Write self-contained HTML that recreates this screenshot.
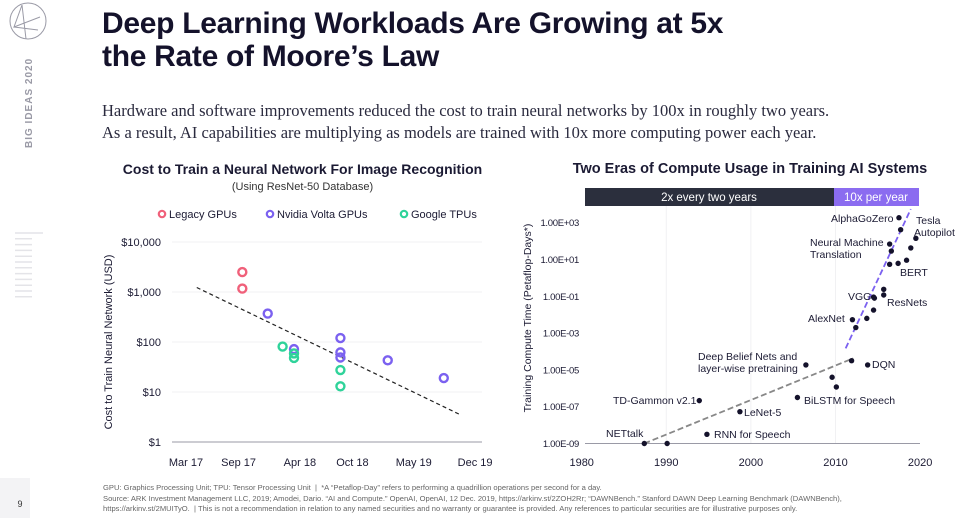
<!DOCTYPE html>
<html><head><meta charset="utf-8"><style>
body{margin:0;width:966px;height:518px;overflow:hidden;background:#fff;font-family:"Liberation Sans",sans-serif;position:relative;color:#1b1a33}
.abs{position:absolute}
svg text{font-family:"Liberation Sans",sans-serif}
</style></head><body>
<svg class="abs" style="left:0;top:0" width="60" height="518">
<g fill="none" stroke="#9a9aa6" stroke-width="1">
<circle cx="28" cy="21" r="18"/><path d="M22 5 L14 27 L40 17 M22 5 L26 39 M14 27 L38 30"/></g>
<text transform="translate(32,148) rotate(-90)" font-size="10" font-weight="bold" fill="#9a9aa6" letter-spacing="1">BIG IDEAS 2020</text>
<g id="side-lines" stroke="#e4e4e8" stroke-width="1.5"></g>
<rect x="0" y="478" width="30" height="40" fill="#f3f3f5"/>
<text x="20" y="507" font-size="9" fill="#333" text-anchor="middle">9</text>
</svg>
<div class="abs" style="left:102px;top:7px;font-size:30px;font-weight:bold;line-height:33px;color:#14122b;letter-spacing:-0.3px">Deep Learning Workloads Are Growing at 5x<br>the Rate of Moore’s Law</div>
<div class="abs" style="left:102px;top:100px;font-family:'Liberation Serif',serif;font-size:16.5px;line-height:22px;color:#2a2a3e">Hardware and software improvements reduced the cost to train neural networks by 100x in roughly two years.<br>As a result, AI capabilities are multiplying as models are trained with 10x more computing power each year.</div>
<div class="abs" style="left:100px;top:161px;width:405px;text-align:center;font-size:14px;font-weight:bold;color:#1b1a33;white-space:nowrap">Cost to Train a Neural Network For Image Recognition</div>
<div class="abs" style="left:110px;top:181px;width:385px;text-align:center;font-size:11px;color:#333">(Using ResNet-50 Database)</div>
<div class="abs" style="left:560px;top:161px;width:380px;text-align:center;font-size:14.5px;font-weight:bold;color:#1b1a33;white-space:nowrap">Two Eras of Compute Usage in Training AI Systems</div>
<div class="abs" style="left:103px;top:483px;font-size:7.6px;line-height:10.5px;color:#666">GPU: Graphics Processing Unit; TPU: Tensor Processing Unit &nbsp;| &nbsp;*A “Petaflop-Day” refers to performing a quadrillion operations per second for a day.<br>Source: ARK Investment Management LLC, 2019; Amodei, Dario. “AI and Compute.” OpenAI, OpenAI, 12 Dec. 2019, https://arkinv.st/2ZOH2Rr; “DAWNBench.” Stanford DAWN Deep Learning Benchmark (DAWNBench),<br>https://arkinv.st/2MUITyO. &nbsp;| This is not a recommendation in relation to any named securities and no warranty or guarantee is provided. Any references to particular securities are for illustrative purposes only.</div>
<svg id="left" class="abs" style="left:0;top:0" width="966" height="518"></svg>
<script>
// sidebar lines
const sl=document.getElementById('side-lines');
for(let i=0;i<12;i++){const l=document.createElementNS('http://www.w3.org/2000/svg','line');const y=i?233+i*5.8:233;l.setAttribute('x1',15);l.setAttribute('x2',i?32:43);l.setAttribute('y1',y);l.setAttribute('y2',y);sl.appendChild(l);}

// ---- Left chart data (months since Mar 2017, USD) ----
const xTickLabels=["Mar 17","Sep 17","Apr 18","Oct 18","May 19","Dec 19"];
const xTickMonths=[0,6,13,19,26,33];
const yTickLabels=["$1","$10","$100","$1,000","$10,000"];
const yTickValues=[1,10,100,1000,10000];
const legacyMonths=[6.2,6.2];
const legacyCost=[2500,1170];
const voltaMonths=[9.1,12.1,17.4,17.4,17.4,22.8,29.2];
const voltaCost=[370,72,120,62,49,43,19];
const tpuMonths=[10.8,12.1,12.1,17.4,17.4];
const tpuCost=[81,59,48,27.5,13];
const trendMonths=[1.0,31.1];
const trendCost=[1230,3.5];

// ---- Right chart data (year, petaflop-days) ----
const rYTickLabels=["1.00E-09","1.00E-07","1.00E-05","1.00E-03","1.00E-01","1.00E+01","1.00E+03"];
const rYTickExp=[-9,-7,-5,-3,-1,1,3];
const rXTicks=[1980,1990,2000,2010,2020];
const pointYears=[1987.4,1990.1,1994.8,1993.9,1998.7,2005.5,2009.6,2010.1,2006.5,2011.9,2013.8,2012.0,2012.4,2013.7,2014.5,2014.5,2014.6,2015.7,2015.7,2016.4,2016.6,2016.4,2017.4,2018.4,2017.7,2017.5,2018.9,2019.5];
const pointLogCompute=[-9,-9,-8.5,-6.67,-7.27,-6.5,-5.4,-5.93,-4.73,-4.5,-4.73,-2.27,-2.7,-2.2,-1.75,-1.04,-1.1,-0.62,-0.93,1.84,1.46,0.74,0.79,0.96,2.62,3.27,1.63,2.15];
const era1Years=[1987.4,2012.1];
const era1Log=[-9,-4.37];
const era2Years=[2011.2,2018.9];
const era2Log=[-3.83,3.74];
const pointLabels=[["NETtalk",606,437],["RNN for Speech",714,438],["TD-Gammon v2.1",613,404],["LeNet-5",744,416],["BiLSTM for Speech",804,404],["Deep Belief Nets and",698,360],["layer-wise pretraining",698,372],["DQN",872,368],["AlexNet",808,322],["VGG",848,300],["ResNets",887,306],["BERT",900,276],["Neural Machine",810,246],["Translation",810,258],["AlphaGoZero",831,222],["Tesla",916,224],["Autopilot",914,236]];

const NS='http://www.w3.org/2000/svg';
const svg=document.getElementById('left');
function mk(t,a,p){const e=document.createElementNS(NS,t);for(const k in a)e.setAttribute(k,a[k]);(p||svg).appendChild(e);return e;}
// left scales
const lx=m=>188+m*8.76;
const ly=v=>442-Math.log10(v)*50;
yTickValues.forEach((v,i)=>{
 const g=mk('line',{x1:172,x2:482,y1:ly(v),y2:ly(v),stroke:i?'#f1f1f3':'#9a9aa6','stroke-width':1});
 
 
 const t=mk('text',{x:161,y:ly(v)+4,'text-anchor':'end','font-size':11,fill:'#1b1a33'});t.textContent=yTickLabels[i];
 
 
});
xTickMonths.forEach((m,i)=>{const t=mk('text',{x:lx(m)-2,y:466,'text-anchor':'middle','font-size':11,fill:'#1b1a33'});t.textContent=xTickLabels[i];
 
 });
const ylab=mk('text',{transform:'translate(112,342) rotate(-90)','text-anchor':'middle','font-size':11,fill:'#1b1a33'});ylab.textContent='Cost to Train Neural Network (USD)';


const tl=mk('line',{x1:lx(trendMonths[0]),y1:ly(trendCost[0]),x2:lx(trendMonths[1]),y2:ly(trendCost[1]),stroke:'#222','stroke-width':1.2,'stroke-dasharray':'4,3'});


function ring(ms,cs,col,name){ms.forEach((m,i)=>{const c=mk('circle',{cx:lx(m),cy:ly(cs[i]),r:4,fill:'none',stroke:col,'stroke-width':2.4});
 
 });}
ring(legacyMonths,legacyCost,'#f0607a','legacy-gpu-point');
ring(voltaMonths,voltaCost,'#7b61f0','volta-gpu-point');
ring(tpuMonths,tpuCost,'#2fd39a','tpu-point');
[['Legacy GPUs','#f0607a',162,'legend-legacy'],['Nvidia Volta GPUs','#7b61f0',270,'legend-volta'],['Google TPUs','#2fd39a',404,'legend-tpu']].forEach(d=>{
 const c=mk('circle',{cx:d[2],cy:214,r:3.2,fill:'none',stroke:d[1],'stroke-width':2.2});
 
 
 const t=mk('text',{x:d[2]+7,y:218,'font-size':11,fill:'#1b1a33'});t.textContent=d[0];
 
 
});
// right scales
const rx=y=>581.7+(y-1980)*8.46;
const ry=l=>222.7+(3-l)*18.4;
rXTicks.forEach(y=>{if(y>1980&&y<2020){const g=mk('line',{x1:rx(y),x2:rx(y),y1:206,y2:443,stroke:'#f1f1f3'});
 
 }
 const t=mk('text',{x:rx(y),y:466,'text-anchor':'middle','font-size':11,fill:'#1b1a33'});t.textContent=y;
 
 });
mk('line',{x1:585,x2:920,y1:443.5,y2:443.5,stroke:'#9a9aa6'});
rYTickExp.forEach((e,i)=>{const t=mk('text',{x:579,y:ry(e)+3.5,'text-anchor':'end','font-size':9.5,fill:'#1b1a33','letter-spacing':'-0.3'});t.textContent=rYTickLabels[i];
 
 });
const ry2=mk('text',{transform:'translate(531,318) rotate(-90)','text-anchor':'middle','font-size':10.5,fill:'#1b1a33'});ry2.textContent='Training Compute Time (Petaflop-Days*)';


const b1=mk('rect',{x:585,y:188,width:249,height:18,fill:'#2b2f3d'});


const b2=mk('rect',{x:834,y:188,width:85,height:18,fill:'#8b6cf0'});


[['2x every two years',709],['10x per year',876]].forEach(d=>{const t=mk('text',{x:d[1],y:201,'text-anchor':'middle','font-size':11.5,fill:'#fff'});t.textContent=d[0];
 
 });
const e1=mk('line',{x1:rx(era1Years[0]),y1:ry(era1Log[0]),x2:rx(era1Years[1]),y2:ry(era1Log[1]),stroke:'#888','stroke-width':1.8,'stroke-dasharray':'6,3'});


const e2=mk('line',{x1:rx(era2Years[0]),y1:ry(era2Log[0]),x2:rx(era2Years[1]),y2:ry(era2Log[1]),stroke:'#7b61f0','stroke-width':1.8,'stroke-dasharray':'6,3'});


pointYears.forEach((y,i)=>{const c=mk('circle',{cx:rx(y),cy:ry(pointLogCompute[i]),r:2.7,fill:'#14122b'});
 
 });
pointLabels.forEach(d=>{const t=mk('text',{x:d[1],y:d[2],'font-size':10.5,fill:'#1b1a33'});t.textContent=d[0];
 
 });
</script>
</body></html>
